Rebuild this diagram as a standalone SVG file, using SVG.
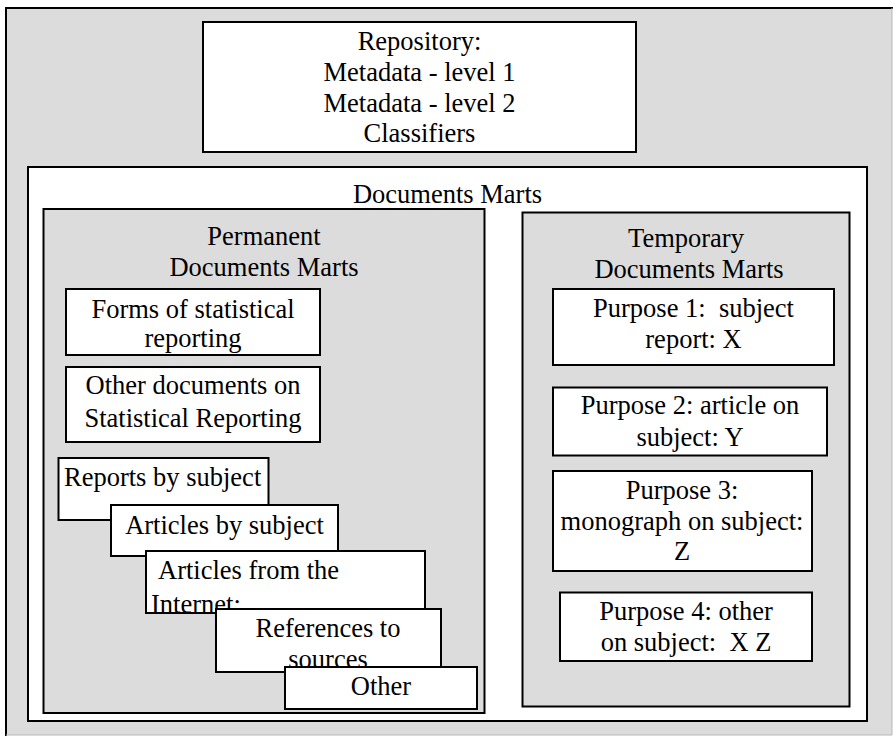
<svg xmlns="http://www.w3.org/2000/svg" width="893" height="736" viewBox="0 0 893 736">
  <style>
    .panel { fill: #dcdcdc; stroke: #000; stroke-width: 2; }
    .box { fill: #fff; stroke: #000; stroke-width: 2; }
    text { font-family: "Liberation Serif", "Times New Roman", serif; font-size: 26.5px; fill: #000; }
    .c { text-anchor: middle; }
  </style>
  <defs>
    <clipPath id="clip-internet">
      <rect x="147" y="552" width="277" height="60"/>
    </clipPath>
  </defs>

  <rect width="893" height="736" fill="#fff"/>

  <!-- outer frame -->
  <g id="frame">
    <rect x="5" y="7" width="887" height="728" fill="#dcdcdc"/>
    <path d="M6 736 V8 H893" fill="none" stroke="#000" stroke-width="2"/>
    <path d="M892 8 V735 H6" fill="none" stroke="#b8b8b8" stroke-width="1"/>
  </g>

  <g id="repository">
    <rect class="box" x="203" y="22" width="433" height="130"/>
    <text class="c" x="419.5" y="50">Repository:</text>
    <text class="c" x="419.5" y="81">Metadata - level 1</text>
    <text class="c" x="419.5" y="111.5">Metadata - level 2</text>
    <text class="c" x="419.5" y="142">Classifiers</text>
  </g>

  <g id="documents-marts">
    <rect class="box" x="28" y="167" width="839" height="554"/>
    <text class="c" x="447.5" y="203">Documents Marts</text>
  </g>

  <g id="permanent-marts">
    <rect class="panel" x="43.5" y="209" width="441" height="504"/>
    <text class="c" x="264" y="245">Permanent</text>
    <text class="c" x="264" y="276">Documents Marts</text>
  </g>

  <g id="forms">
    <rect class="box" x="66" y="289" width="254" height="66"/>
    <text class="c" x="193" y="317.5">Forms of statistical</text>
    <text class="c" x="193" y="347">reporting</text>
  </g>

  <g id="other-documents">
    <rect class="box" x="66" y="367" width="254" height="75"/>
    <text class="c" x="193" y="394">Other documents on</text>
    <text class="c" x="193" y="426.5">Statistical Reporting</text>
  </g>

  <g id="reports-by-subject">
    <rect class="box" x="58.5" y="458" width="210" height="62"/>
    <text x="64" y="486">Reports by subject</text>
  </g>

  <g id="articles-by-subject">
    <rect class="box" x="111" y="505" width="227" height="51"/>
    <text class="c" x="224.5" y="533.5">Articles by subject</text>
  </g>

  <g id="articles-internet">
    <rect class="box" x="146" y="551" width="279" height="62"/>
    <g clip-path="url(#clip-internet)">
      <text x="158" y="578.5">Articles from the</text>
      <text x="151" y="613">Internet:</text>
    </g>
  </g>

  <g id="references">
    <rect class="box" x="216" y="609" width="225" height="63"/>
    <text class="c" x="328" y="636.5">References to</text>
    <text class="c" x="328" y="668">sources</text>
  </g>

  <g id="other">
    <rect class="box" x="285" y="667" width="192" height="42"/>
    <text class="c" x="381" y="695">Other</text>
  </g>

  <g id="temporary-marts">
    <rect class="panel" x="522.5" y="212.5" width="327" height="494"/>
    <text class="c" x="686" y="246.5">Temporary</text>
    <text class="c" x="689" y="278">Documents Marts</text>
  </g>

  <g id="purpose-1">
    <rect class="box" x="553" y="289" width="281" height="76"/>
    <text class="c" x="693.5" y="316.5" xml:space="preserve">Purpose 1:  subject</text>
    <text class="c" x="693.5" y="347.5">report: X</text>
  </g>

  <g id="purpose-2">
    <rect class="box" x="553" y="387.5" width="274" height="68"/>
    <text class="c" x="690" y="414">Purpose 2: article on</text>
    <text class="c" x="690" y="446">subject: Y</text>
  </g>

  <g id="purpose-3">
    <rect class="box" x="553" y="471" width="259" height="100"/>
    <text class="c" x="682" y="498.5">Purpose 3:</text>
    <text class="c" x="682" y="529.5">monograph on subject:</text>
    <text class="c" x="682" y="559.5">Z</text>
  </g>

  <g id="purpose-4">
    <rect class="box" x="560" y="592.5" width="252" height="68.5"/>
    <text class="c" x="686" y="619.5">Purpose 4: other</text>
    <text class="c" x="686" y="651" xml:space="preserve">on subject:  X Z</text>
  </g>

  <g id="connectors"/>
</svg>
